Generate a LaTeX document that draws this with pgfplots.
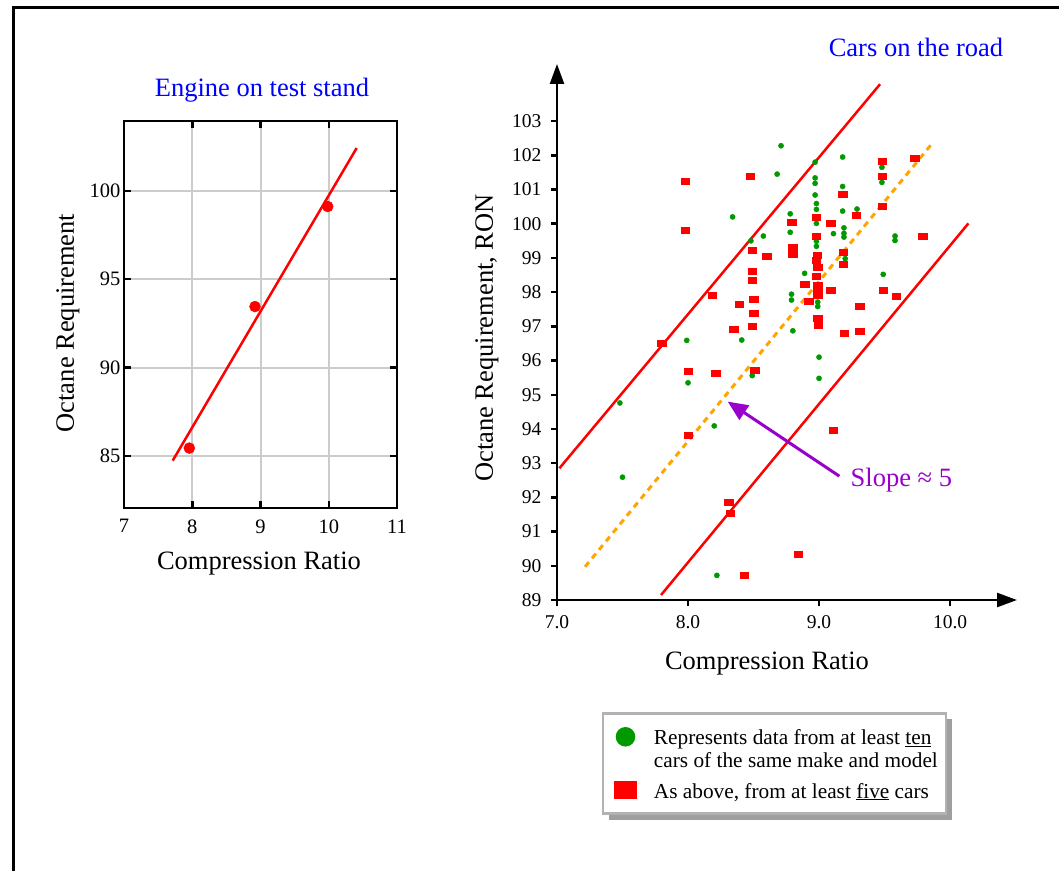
\documentclass[border=0pt]{standalone}
\usepackage{pgfplots}
\pgfplotsset{compat=1.18}
\usepackage{fontspec}
\setmainfont{Liberation Serif}
\usetikzlibrary{arrows.meta,shadows}
\definecolor{mygreen}{RGB}{0,153,0}
\definecolor{myorange}{RGB}{255,165,0}
\definecolor{mypurple}{RGB}{153,0,204}
\definecolor{myblue}{RGB}{0,0,255}
\newcommand{\bigfont}{\fontsize{26.5}{30}\selectfont}
\pgfplotsset{
  wideleg/.style={legend image code/.code={\draw[mark repeat=2, mark phase=2, ##1] plot coordinates {(0pt,0pt) (14.5pt,0pt) (29pt,0pt)};}},
  widelegtall/.style={legend image code/.code={\draw[mark repeat=2, mark phase=2, ##1] plot coordinates {(0pt,0pt) (14.5pt,0pt) (29pt,0pt)}; \path (0pt,17.5pt) (0pt,-8pt);}},
}
\begin{document}
\begin{tikzpicture}
\useasboundingbox (0pt,0pt) rectangle (1059pt,871pt);
\fill[white] (0pt,0pt) rectangle (1059pt,871pt);
\draw[line width=3pt] (13pt,0pt) -- (13pt,863pt) -- (1059pt,863pt);

% ---------- left axis ----------
\begin{axis}[
  at={(124pt,363pt)}, anchor=south west,
  scale only axis, width=273pt, height=387pt,
  xmin=7, xmax=11, ymin=82.05, ymax=103.95,
  xtick={7,8,9,10,11}, ytick={85,90,95,100},
  grid=major, grid style={gray!40, line width=2pt},
  axis line style={line width=2.5pt},
  tick align=inside, major tick length=7pt,
  tick style={line width=2.5pt, black},
  tick label style={font=\fontsize{20.5}{20}\selectfont},
  xticklabel style={yshift=-8pt},
  /pgf/number format/assume math mode=true,
  clip=false,
]
\addplot[red, line width=2.5pt] coordinates {(7.713,84.73) (10.409,102.42)};
\addplot[only marks, mark=*, mark size=5.5pt, red] coordinates {
(7.957,85.44) (8.919,93.45) (9.985,99.11)};
\end{axis}

% ---------- right axis ----------
\begin{axis}[
  at={(557pt,271pt)}, anchor=south west,
  scale only axis, width=460pt, height=536pt,
  xmin=7, xmax=10.511, ymin=89, ymax=104.67,
  axis lines=left,
  axis line style={line width=2.5pt, -{Triangle[length=20pt,width=14pt]}},
  xtick={7,8,9,10}, xticklabels={7.0,8.0,9.0,10.0},
  ytick={89,90,...,103},
  tick align=outside, major tick length=6pt,
  tick style={line width=2.5pt, black},
  tick label style={font=\fontsize{19.5}{20}\selectfont},
  xticklabel style={yshift=-6pt},
  yticklabel style={xshift=-6pt},
  /pgf/number format/assume math mode=true,
  legend style={at={(0.0978,-0.209)}, anchor=north west,
    draw=gray!60, line width=2.5pt, fill=white,
    drop shadow={shadow xshift=6pt, shadow yshift=-6pt, fill=gray!75, opacity=1},
    font=\fontsize{21.3}{23}\selectfont,
    inner xsep=6.5pt, inner ysep=12pt,
    column sep=17pt, row sep=0pt,
    nodes={inner sep=1.5pt, text height=18pt, text depth=2pt}},
  legend cell align=left,
]
\addplot[red, line width=2.5pt, forget plot] coordinates {(7.018,92.85) (9.466,104.08)};
\addplot[red, line width=2.5pt, forget plot] coordinates {(7.794,89.146) (10.14,100.01)};
\addplot[myorange, line width=3pt, dash pattern=on 6pt off 5pt, forget plot] coordinates {(7.214,89.97) (9.868,102.37)};
\addplot[only marks, mark=*, mark size=2.6pt, mygreen, forget plot] coordinates {
(8.71,102.28) (8.68,101.45) (8.34,100.20) (8.78,100.29) (8.78,99.75)
(8.575,99.64) (8.48,99.50) (8.79,97.94) (8.79,97.77) (8.80,96.87)
(7.99,96.59) (8.41,96.60) (8.49,95.56) (8.97,101.80) (9.18,101.95)
(8.97,101.34) (8.97,101.18) (8.97,100.84) (8.98,100.59) (8.98,100.42)
(8.98,100.01) (8.98,99.49) (8.98,99.34) (9.18,101.09) (9.18,100.37)
(9.29,100.43) (9.11,99.71) (9.19,99.88) (9.19,99.72) (9.19,99.61)
(9.20,98.98) (9.48,101.65) (9.48,101.21) (9.58,99.64) (9.58,99.51)
(8.89,98.55) (9.49,98.52) (8.99,97.71) (8.99,97.58) (9.00,96.10)
(9.00,95.48) (7.48,94.76) (7.50,92.59) (8.00,95.35) (8.20,94.09)
(8.22,89.72)};
\addplot[only marks, mark=square*, mark size=3pt, mark options={xscale=1.4}, red, forget plot] coordinates {
(8.475,101.40) (7.98,101.25) (7.98,99.80) (8.79,100.04) (8.80,99.31)
(8.80,99.12) (8.49,99.23) (8.60,99.06) (8.49,98.62) (8.49,98.36)
(8.185,97.92) (8.50,97.80) (8.39,97.65) (8.50,97.39) (8.35,96.91)
(8.49,97.01) (7.80,96.51) (8.00,95.70) (8.21,95.63) (8.51,95.73)
(9.48,101.83) (9.73,101.92) (9.48,101.39) (9.18,100.87) (9.48,100.52)
(9.285,100.25) (8.98,100.19) (9.09,100.01) (8.98,99.63) (9.79,99.63)
(9.185,99.17) (8.985,99.08) (8.98,98.93) (8.99,98.74) (9.185,98.82)
(8.98,98.46) (8.99,98.21) (8.99,98.06) (8.99,97.90) (8.89,98.23)
(9.09,98.06) (8.92,97.73) (9.49,98.06) (9.59,97.88) (9.31,97.59)
(8.99,97.24) (8.995,97.03) (9.19,96.80) (9.31,96.86) (8.00,93.81)
(9.11,93.96) (8.31,91.86) (8.32,91.54) (8.84,90.34) (8.43,89.72)};
\addplot[mypurple, line width=3pt, -{Triangle[length=20pt,width=17pt]}, forget plot] coordinates {(9.155,92.62) (8.303,94.80)};
\node[mypurple, anchor=west, font=\bigfont] at (axis cs:9.215,92.51) {Slope ≈ 5};
\addlegendimage{only marks, mark=*, mark size=8.5pt, mygreen, wideleg}
\addlegendentry{Represents data from at least \underline{ten}}
\addlegendimage{empty legend}
\addlegendentry{cars of the same make and model}
\addlegendimage{only marks, mark=square*, mark size=7.5pt, mark options={xscale=1.33}, red, widelegtall}
\addlegendentry{As above, from at least \underline{five} cars}
\end{axis}

% ---------- labels ----------
\node[myblue, font=\bigfont] at (262pt,781pt) {Engine on test stand};
\node[myblue, font=\bigfont] at (916pt,824pt) {Cars on the road};
\node[font=\bigfont, rotate=90] at (68pt,548pt) {Octane Requirement};
\node[font=\bigfont] at (259pt,307pt) {Compression Ratio};
\node[font=\bigfont, rotate=90] at (487pt,533pt) {Octane Requirement, RON};
\node[font=\bigfont] at (767pt,207pt) {Compression Ratio};
\end{tikzpicture}
\end{document}
